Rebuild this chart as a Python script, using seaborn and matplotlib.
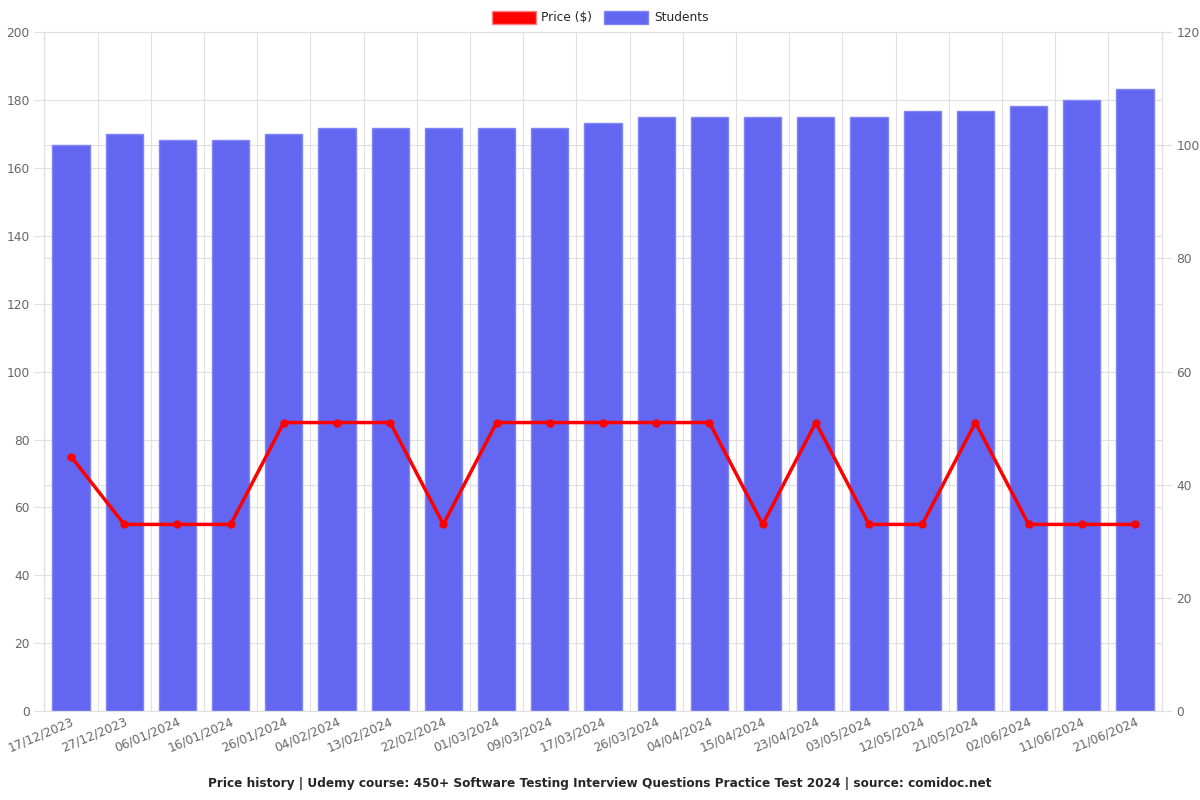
import numpy as np
import pandas as pd
import matplotlib
matplotlib.use("Agg")
import matplotlib.pyplot as plt
import seaborn as sns
from matplotlib.patches import Patch

dates = ["17/12/2023", "27/12/2023", "06/01/2024", "16/01/2024", "26/01/2024",
         "04/02/2024", "13/02/2024", "22/02/2024", "01/03/2024", "09/03/2024",
         "17/03/2024", "26/03/2024", "04/04/2024", "15/04/2024", "23/04/2024",
         "03/05/2024", "12/05/2024", "21/05/2024", "02/06/2024", "11/06/2024",
         "21/06/2024"]
price = [75, 55, 55, 55, 85, 85, 85, 55, 85, 85, 85, 85, 85, 55, 85, 55, 55, 85, 55, 55, 55]
students = [100, 102, 101, 101, 102, 103, 103, 103, 103, 103, 104, 105, 105, 105, 105,
            105, 106, 106, 107, 108, 110]

df = pd.DataFrame({"date": dates, "price": price, "students": students})

sns.set_style("white")
plt.rcParams['font.family'] = ['DejaVu Sans']

grid_c = "#e0e0e0"
text_c = "#666666"
bar_c = "#6366F1"
fs = 8.8

fig = plt.figure(figsize=(12, 8), dpi=100)
# bars axis (students, right scale) drawn underneath
ax_s = fig.add_axes([0.037, 0.111, 0.931, 0.849])
ax_p = ax_s.twinx()

sns.barplot(data=df, x="date", y="students", color=bar_c, width=0.7,
            edgecolor="#8285f5", linewidth=1, saturation=1, ax=ax_s, zorder=2)
ax_s.set_ylim(0, 120)
ax_s.set_xlim(-0.5, len(dates) - 0.5)
ax_s.yaxis.tick_right()
ax_s.yaxis.set_label_position("right")
ax_s.set_yticks(np.arange(0, 121, 20))
# left-axis grid drawn here so it stays behind the bars
ax_s.set_yticks(np.arange(0, 201, 20) * 120 / 200, minor=True)
ax_s.set_xticks(np.arange(len(dates)) - 0.5, minor=True)
ax_s.set_xticks(np.arange(len(dates)))
ax_s.set_xticklabels(dates, rotation=23, ha="right", rotation_mode="anchor")
ax_s.yaxis.grid(True, which="both", color=grid_c, linewidth=0.8, zorder=0)
ax_s.xaxis.grid(True, which="minor", color=grid_c, linewidth=0.8, zorder=0)
ax_s.xaxis.grid(False, which="major")
ax_s.set_axisbelow(True)
ax_s.tick_params(axis="x", which="major", length=0, pad=3, labelsize=fs, labelcolor=text_c)
ax_s.tick_params(axis="x", which="minor", length=7, color=grid_c)
ax_s.tick_params(axis="y", which="major", length=7, color=grid_c, labelsize=fs, labelcolor=text_c)
ax_s.tick_params(axis="y", which="minor", length=0)
ax_s.set_xlabel("")
ax_s.set_ylabel("")

sns.lineplot(data=df, x="date", y="price", color="#ff0000", linewidth=2.5, marker="o",
             markersize=6, markeredgewidth=0, sort=False, ax=ax_p)
ax_p.set_ylim(0, 200)
ax_p.yaxis.tick_left()
ax_p.set_yticks(np.arange(0, 201, 20))
ax_p.tick_params(axis="y", length=7, color=grid_c, labelsize=fs, labelcolor=text_c)
ax_p.set_ylabel("")
ax_p.set_xlabel("")

for a in (ax_s, ax_p):
    for sp in a.spines.values():
        sp.set_color(grid_c)

handles = [Patch(facecolor="#ff0000", edgecolor="#ff8080", label="Price ($)"),
           Patch(facecolor=bar_c, edgecolor="#8285f5", label="Students")]
fig.legend(handles=handles, loc="upper center", bbox_to_anchor=(0.5, 1.0), ncol=2,
           frameon=False, handlelength=3.6, handleheight=1.2, fontsize=fs,
           columnspacing=1.0, handletextpad=0.45)

fig.text(0.5, 0.021, "Price history | Udemy course: 450+ Software Testing Interview Questions "
         "Practice Test 2024 | source: comidoc.net", ha="center", va="center",
         fontsize=8.7, fontweight="bold")

fig.savefig("out.png", dpi=100, facecolor="white")
